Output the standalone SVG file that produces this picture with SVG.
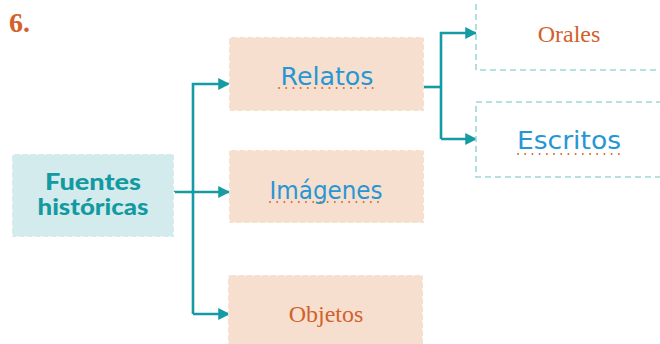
<svg xmlns="http://www.w3.org/2000/svg" width="660" height="344" viewBox="0 0 660 344">
  <style>
    .peach { fill: #f7dfcf; }
    .edge { fill: none; stroke: #ffffff; stroke-width: 1.6; stroke-dasharray: 2.5 5.5; }
    .dash { fill: #ffffff; stroke: #9fd6d8; stroke-width: 1.6; stroke-dasharray: 6 4; }
    .hand { font-family: "DejaVu Sans", "Noto Sans", sans-serif; fill: #2697d4; }
    .serif { font-family: "Liberation Serif", serif; fill: #d2612a; font-size: 24px; }
    .bold { font-family: Lato, "Open Sans", sans-serif; font-weight: 900; font-size: 22px; fill: #139aa0; }
    .dots { stroke: #d9692e; stroke-width: 2; stroke-linecap: round; stroke-dasharray: 0 7.2; fill: none; }
    .wire { fill: none; stroke: #149ba3; stroke-width: 2.6; }
  </style>
  <defs>
    <marker id="head" viewBox="0 0 10 10" refX="9" refY="5" markerWidth="4.6" markerHeight="4.6" orient="auto" markerUnits="strokeWidth">
      <path d="M0,0 L10,5 L0,10 z" fill="#149ba3"/>
    </marker>
  </defs>

  <rect width="660" height="344" fill="#ffffff"/>

  <text x="9" y="32" font-family="Liberation Serif, serif" font-weight="bold" font-size="28" fill="#d2612a">6.</text>

  <g id="connectors">
    <path class="wire" d="M174,192 H229" marker-end="url(#head)"/>
    <path class="wire" d="M193,314 V84 H229" marker-end="url(#head)"/>
    <path class="wire" d="M193,314 H229" marker-end="url(#head)"/>
    <path class="wire" d="M424,87 H441"/>
    <path class="wire" d="M441,139 V33 H476" marker-end="url(#head)"/>
    <path class="wire" d="M441,139 H476" marker-end="url(#head)"/>
  </g>

  <g id="fuentes">
    <rect x="12" y="154" width="162" height="83" fill="#d3ebed"/>
    <rect x="12" y="154" width="162" height="83" class="edge"/>
    <text x="93" y="190" text-anchor="middle" class="bold" textLength="96" lengthAdjust="spacingAndGlyphs">Fuentes</text>
    <text x="93" y="215" text-anchor="middle" class="bold" textLength="111" lengthAdjust="spacingAndGlyphs">históricas</text>
  </g>

  <g id="relatos">
    <rect x="229" y="37" width="195" height="74" class="peach"/>
    <rect x="229" y="37" width="195" height="74" class="edge"/>
    <text x="327" y="85" text-anchor="middle" font-size="25" class="hand" textLength="93" lengthAdjust="spacingAndGlyphs">Relatos</text>
    <line x1="279" y1="88" x2="376" y2="88" class="dots"/>
  </g>

  <g id="imagenes">
    <rect x="229" y="150" width="195" height="73" class="peach"/>
    <rect x="229" y="150" width="195" height="73" class="edge"/>
    <text x="326" y="199" text-anchor="middle" font-size="25" class="hand" textLength="113" lengthAdjust="spacingAndGlyphs">Imágenes</text>
    <line x1="270" y1="202" x2="384" y2="202" class="dots"/>
  </g>

  <g id="objetos">
    <rect x="228" y="275" width="195" height="75" class="peach"/>
    <rect x="228" y="275" width="195" height="75" class="edge"/>
    <text x="326" y="322" text-anchor="middle" class="serif">Objetos</text>
  </g>

  <g id="orales">
    <rect x="476" y="-10" width="200" height="80" class="dash"/>
    <text x="569" y="42" text-anchor="middle" class="serif">Orales</text>
  </g>

  <g id="escritos">
    <rect x="476" y="102" width="200" height="75" class="dash"/>
    <text x="569" y="149" text-anchor="middle" font-size="25" class="hand" textLength="104" lengthAdjust="spacingAndGlyphs">Escritos</text>
    <line x1="518" y1="154" x2="623" y2="154" class="dots"/>
  </g>
</svg>
